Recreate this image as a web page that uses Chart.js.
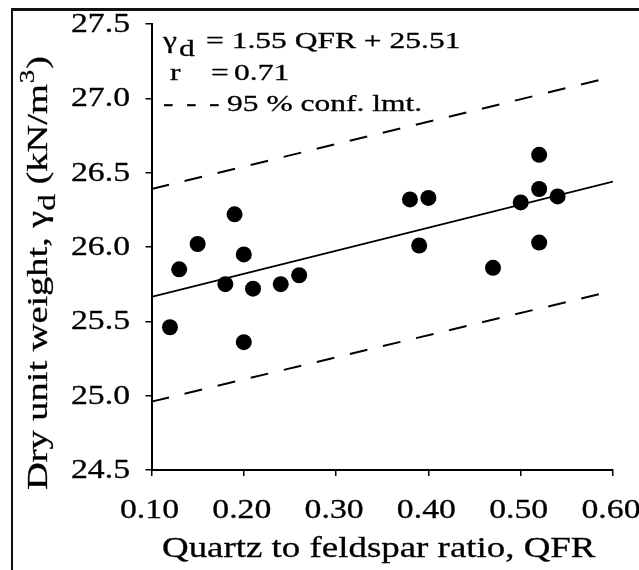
<!DOCTYPE html>
<html>
<head>
<meta charset="utf-8">
<script src="https://cdn.jsdelivr.net/npm/chart.js@4.4.1/dist/chart.umd.min.js"></script>
<style>
  html, body { margin: 0; padding: 0; background: #fff; overflow: hidden; }
  #wrap { position: relative; width: 639px; height: 570px; overflow: hidden; }
  #frame { position: absolute; left: 11px; top: 8px; width: 700px; height: 700px;
           border-top: 3px solid #111; border-left: 2px solid #111; }
  #chart { position: absolute; left: 0; top: 0; }
</style>
</head>
<body>
<div id="wrap">
  <div id="frame"></div>
  <canvas id="chart" width="639" height="570"></canvas>
</div>
<script>
// Measured samples: quartz/feldspar ratio vs dry unit weight (kN/m3)
const qfr = [0.12, 0.13, 0.15, 0.18, 0.19, 0.20, 0.20, 0.21, 0.24, 0.26,
             0.38, 0.39, 0.40, 0.47, 0.50, 0.52, 0.52, 0.52, 0.54];
const dryUnitWeight = [25.46, 25.85, 26.02, 25.75, 26.22, 25.95, 25.36, 25.72, 25.75, 25.81,
                       26.32, 26.01, 26.33, 25.86, 26.30, 26.62, 26.39, 26.03, 26.34];

// Regression  yd = 1.55 QFR + 25.51, end points at QFR 0.10 and 0.60
const fitX = [0.10, 0.60];
const fitY = [25.665, 26.44];

// 95 % confidence limits
const upperX = [0.10, 0.59];
const upperY = [26.39, 27.13];
const lowerX = [0.10, 0.59];
const lowerY = [24.96, 25.69];

const xTicks = [0.10, 0.20, 0.30, 0.40, 0.50, 0.60];
const yTicks = [24.5, 25.0, 25.5, 26.0, 26.5, 27.0, 27.5];

const SERIF = '"Liberation Serif", "Times New Roman", serif';
const toXY = (xs, ys) => xs.map((x, i) => ({ x: x, y: ys[i] }));

// Text in this figure is set wide: draw it stretched horizontally
function wideText(ctx, s, x, y, size, opts = {}) {
    const sx = opts.sx || 1.25;
    ctx.save();
    ctx.font = size + 'px ' + SERIF;
    ctx.textBaseline = 'alphabetic';
    ctx.textAlign = 'left';
    const w = ctx.measureText(s).width * sx;
    if (opts.align === 'right') x -= w;
    if (opts.align === 'center') x -= w / 2;
    ctx.translate(x, y);
    ctx.scale(sx, 1);
    ctx.fillStyle = '#000';
    ctx.strokeStyle = '#000';
    ctx.lineWidth = 0.3;
    ctx.fillText(s, 0, 0);
    ctx.strokeText(s, 0, 0);
    ctx.restore();
    return w;
}

const textPlugin = {
    id: 'figureText',
    afterDraw(chart) {
        const ctx = chart.ctx;
        const xs = chart.scales.x;
        const ys = chart.scales.y;

        // tick labels placed from the axes' own ticks
        xs.ticks.forEach(t => {
            wideText(ctx, t.value.toFixed(2), xs.getPixelForValue(t.value) - 2, 518, 27, { align: 'center' });
        });
        ys.ticks.forEach(t => {
            wideText(ctx, t.value.toFixed(1), 130, ys.getPixelForValue(t.value) + 8, 27, { align: 'right' });
        });

        // equation block
        const eq = { sx: 1.37 };
        wideText(ctx, '\u03b3', 163, 48, 23, eq);
        wideText(ctx, 'd', 179, 56, 23, eq);
        wideText(ctx, '= 1.55 QFR + 25.51', 206, 48, 23, eq);
        wideText(ctx, 'r', 170, 80, 23, eq);
        wideText(ctx, '=', 211, 80, 23, eq);
        wideText(ctx, '0.71', 234, 80, 23, eq);
        wideText(ctx, '-', 163, 110.5, 23, eq);
        wideText(ctx, '-', 186, 110.5, 23, eq);
        wideText(ctx, '-', 209, 110.5, 23, eq);
        wideText(ctx, '95 % conf. lmt.', 227, 110.5, 23, eq);

        // x axis title
        wideText(ctx, 'Quartz to feldspar ratio, QFR', 162, 557, 30, { sx: 1.23 });

        // y axis title, rotated, with sub/superscript
        ctx.save();
        ctx.translate(47, 490);
        ctx.rotate(-Math.PI / 2);
        const yt = { sx: 1.28 };
        let x = 0;
        x += wideText(ctx, 'Dry unit weight, \u03b3', x, 0, 30, yt);
        x += wideText(ctx, 'd', x, 8, 26, yt);
        x += wideText(ctx, ' (kN/m', x, 0, 30, yt);
        x += wideText(ctx, '3', x + 1, -13, 21, yt);
        wideText(ctx, ')', x + 2, 0, 30, yt);
        ctx.restore();
    }
};

const axisGrid = { drawOnChartArea: false, drawTicks: true, tickLength: 6, color: '#000', lineWidth: 1.5 };

function drawChart() {
    new Chart(document.getElementById('chart'), {
        type: 'scatter',
        data: {
            datasets: [
                {
                    label: 'Samples',
                    data: toXY(qfr, dryUnitWeight),
                    backgroundColor: '#000',
                    borderWidth: 0,
                    pointRadius: 8
                },
                {
                    label: 'Regression',
                    data: toXY(fitX, fitY),
                    showLine: true,
                    borderColor: '#000',
                    borderWidth: 1.8,
                    pointRadius: 0
                },
                {
                    label: 'Upper 95%',
                    data: toXY(upperX, upperY),
                    showLine: true,
                    borderColor: '#000',
                    borderWidth: 2,
                    borderDash: [18, 16],
                    pointRadius: 0
                },
                {
                    label: 'Lower 95%',
                    data: toXY(lowerX, lowerY),
                    showLine: true,
                    borderColor: '#000',
                    borderWidth: 2,
                    borderDash: [18, 16],
                    pointRadius: 0
                }
            ]
        },
        options: {
            responsive: false,
            animation: false,
            events: [],
            layout: { padding: { top: 24, right: 26, bottom: 0, left: 0 } },
            plugins: {
                legend: { display: false },
                tooltip: { enabled: false }
            },
            scales: {
                x: {
                    type: 'linear',
                    min: 0.1,
                    max: 0.6,
                    afterBuildTicks: (scale) => { scale.ticks = xTicks.map(v => ({ value: v })); },
                    afterFit: (scale) => { scale.height = 100; scale.paddingLeft = 0; scale.paddingRight = 0; },
                    ticks: { display: false, autoSkip: false },
                    grid: axisGrid,
                    border: { color: '#000', width: 2 }
                },
                y: {
                    type: 'linear',
                    min: 24.5,
                    max: 27.5,
                    afterBuildTicks: (scale) => { scale.ticks = yTicks.map(v => ({ value: v })); },
                    afterFit: (scale) => { scale.width = 151.5; scale.paddingTop = 0; scale.paddingBottom = 0; },
                    ticks: { display: false, autoSkip: false },
                    grid: axisGrid,
                    border: { color: '#000', width: 2 }
                }
            }
        },
        plugins: [textPlugin]
    });
}

// make sure the serif face is loaded before the canvas text is drawn
document.fonts.load('27px "Liberation Serif"').then(drawChart, drawChart);
</script>
</body>
</html>
